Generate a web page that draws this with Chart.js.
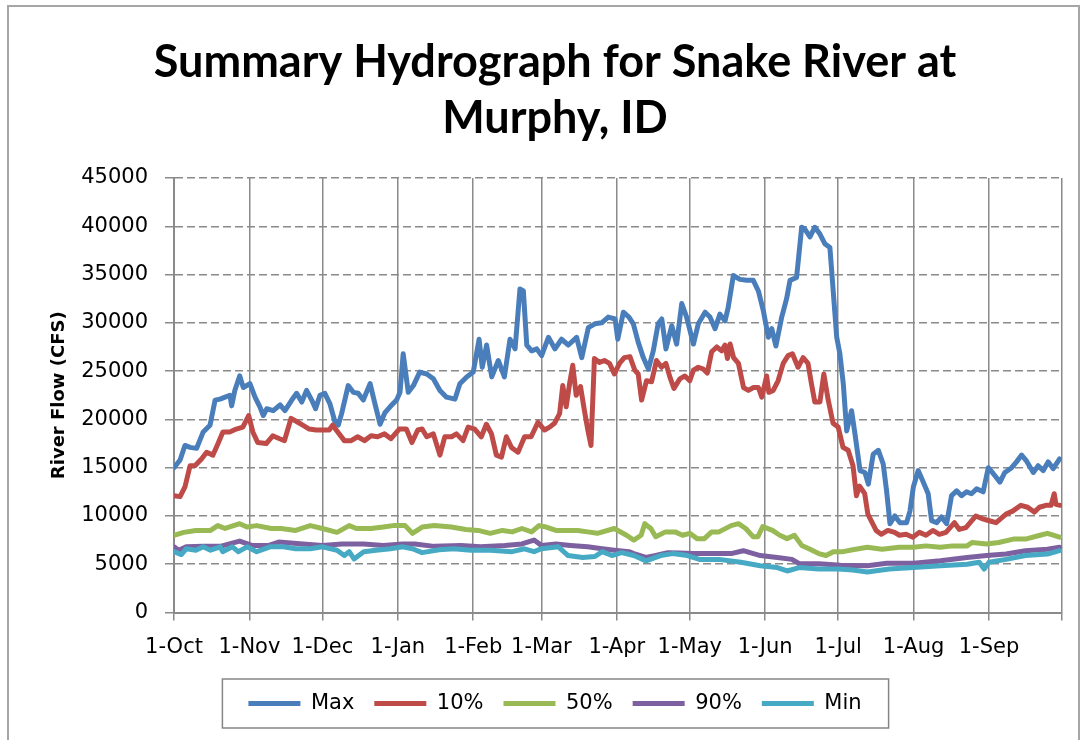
<!DOCTYPE html>
<html lang="en">
<head>
    <meta charset="UTF-8">
    <title>Summary Hydrograph for Snake River at Murphy, ID</title>
    <script src="https://cdn.jsdelivr.net/npm/chart.js"></script>
    <style>
        body, html {
            margin: 0;
            background-color: #fff;
            overflow: hidden;
        }
        #wrap {
            position: relative;
            width: 1085px;
            height: 740px;
        }
        /* outer chart frame, bottom edge falls off the picture */
        #frame {
            position: absolute;
            left: 7px;
            top: 5px;
            width: 1069px;
            height: 760px;
            border: 2px solid #a6a6a6;
            pointer-events: none;
        }
    </style>
</head>
<body>
<div id="wrap">
    <canvas id="hydroChart" width="1085" height="740"></canvas>
    <div id="frame"></div>
</div>

<script>
    // day of water year (0 = 1-Oct) for the month ticks
    const monthDays = [0, 31, 61, 92, 123, 151, 182, 212, 243, 273, 304, 335, 365];
    const monthLabels = ['1-Oct', '1-Nov', '1-Dec', '1-Jan', '1-Feb', '1-Mar', '1-Apr', '1-May', '1-Jun', '1-Jul', '1-Aug', '1-Sep', ''];

    // Max
    const maxDays = [0, 2.5, 4.5, 6.6, 9.3, 12, 14.8, 16.9, 18.9, 21, 23, 23.7, 25, 27, 28.5, 31.2, 33.3, 35.3, 36.7, 38.1,
        40.8, 43.6, 45.6, 48.4, 50.4, 52.5, 54.5, 56.6, 58.2, 60, 62, 64.1, 66.2, 67.5, 68.9, 71.6, 73.7, 75.7, 77.8, 80.6,
        82.6, 84.7, 86.7, 88.8, 91.5, 92.9, 94.2, 96.3, 98.4, 101, 103.9, 106.6, 109.3, 112, 115.5, 117.5, 120.3, 123, 125.4, 126.7,
        128.5, 130.6, 133.3, 135.8, 138.1, 140.2, 142.2, 143.6, 145, 147, 149.1, 151.1, 153.9, 156.6, 159.3, 162.1, 165.5, 167.6, 170.3, 173,
        175.8, 178.5, 181.3, 182.4, 184.7, 187, 188.8, 190.8, 192.9, 195, 197, 199, 200.5, 202.2, 204.6, 206.6, 208.7, 210.7, 213.5, 215.5,
        218.3, 220.3, 222.4, 224.4, 226.5, 227.8, 229.9, 232.6, 235.4, 238.1, 240.2, 242.2, 244.3, 245.7, 247.4, 249.8, 251.8, 253.2, 255.9, 258,
        259.3, 261.4, 263.4, 265.5, 267.5, 269.6, 272.4, 273.7, 275.1, 276.5, 278.5, 279.9, 282, 284, 285.4, 287.4, 289.5, 291.5, 292.9, 294.3,
        296.3, 298.4, 301.1, 302.5, 303.9, 305.9, 308, 310, 311.4, 313.5, 315.5, 317.6, 319.6, 321.7, 323.7, 325.8, 327.8, 329.9, 332.6, 334.7,
        336.7, 339.5, 341.5, 344.3, 346.3, 348.4, 350.4, 353.2, 355.2, 357.3, 359.3, 361.4, 364];
    const maxFlow = [15000, 15800, 17300, 17100, 17000, 18700, 19400, 22000, 22100, 22300, 22500, 21400, 23000, 24500, 23300, 23700, 22300, 21300, 20400, 21100,
        20900, 21500, 20900, 22000, 22700, 21800, 23000, 22000, 21100, 22500, 22700, 21600, 19700, 19400, 20600, 23500, 22800, 22700, 22000, 23700,
        21600, 19500, 20700, 21300, 22000, 22800, 26800, 22800, 23500, 24900, 24700, 24200, 23000, 22300, 22100, 23700, 24400, 24900, 28300, 25400,
        27700, 24400, 26100, 24400, 28300, 27300, 33500, 33300, 27700, 27100, 27300, 26600, 28500, 27300, 28300, 27700, 28500, 26400, 29500, 29900,
        30000, 30600, 30400, 28300, 31100, 30600, 29900, 28000, 26400, 25200, 27100, 29900, 30400, 27300, 29700, 27800, 32000, 30600, 27800, 29900,
        31100, 30600, 29400, 30900, 30200, 31600, 34900, 34500, 34400, 34400, 33300, 31300, 28500, 29400, 27600, 30600, 32500, 34400, 34700, 39900,
        39700, 38900, 39900, 39200, 38200, 37800, 28500, 26800, 23700, 18800, 20900, 18500, 14700, 14500, 13300, 16400, 16800, 15400, 12600, 9200,
        10000, 9300, 9300, 10500, 13000, 14700, 13500, 12300, 9500, 9300, 9900, 9200, 12100, 12600, 12100, 12500, 12300, 12800, 12500, 15000,
        14400, 13500, 14500, 15000, 15600, 16300, 15700, 14500, 15200, 14700, 15600, 14900, 15900];

    // 10%
    const p10Days = [0, 2.5, 4.5, 6.6, 8.6, 11.3, 13.4, 16, 18.1, 20.1, 22.9, 25.6, 28.3, 30.7, 32.4, 34.4, 37.9, 40.6, 43.4, 45.4,
        48.1, 50.9, 52.9, 55.6, 58.4, 61.1, 63.8, 65.2, 67.3, 70, 72.8, 75.5, 78.3, 81, 83.7, 86.5, 89.2, 92.6, 95.5, 97.8,
        100.2, 102, 103.9, 106.6, 109.3, 111.3, 114.1, 116.1, 118.8, 120.9, 123.6, 126.3, 128.4, 130.5, 132.5, 134.6, 136.6, 138.7, 141.4, 144.1,
        146.8, 149.6, 152.3, 154.4, 156.4, 158.5, 159.8, 161.2, 162.6, 163.9, 165.3, 167.1, 168.7, 170.1, 171.4, 172.8, 174.9, 176.9, 179, 181,
        183.1, 185.1, 187.4, 189.4, 190.8, 192.2, 194.2, 196.3, 198.3, 200.4, 202.2, 203.8, 205.5, 207.9, 210, 212, 213.5, 215.5, 217.6, 219.2,
        221, 223.1, 225.1, 226.5, 227.5, 228.6, 230, 232, 234.1, 236.1, 238.2, 240.2, 241.6, 243.6, 244.5, 246.3, 248.3, 250.4, 252.4, 254.2,
        256.5, 258.6, 260.6, 262, 263.4, 265.5, 267.1, 268.9, 270.9, 273, 275, 277.1, 279.1, 280.5, 281.8, 283.9, 285.2, 286.6, 288.6, 290.7,
        293.4, 296.2, 298.2, 300.9, 303.7, 306.4, 309.1, 311.9, 314.6, 317.3, 320.8, 322.8, 325.5, 329.6, 332.4, 335.1, 337.9, 342, 344.7, 348.1,
        350.9, 353.6, 355.7, 358.4, 360.5, 361.8, 362.5, 364.2];
    const p10Flow = [12100, 12000, 13000, 15200, 15200, 15900, 16600, 16300, 17500, 18700, 18700, 19000, 19200, 20400, 18700, 17600, 17500, 18300, 18000, 17800,
        20100, 19700, 19400, 19000, 18900, 18900, 18900, 19400, 18700, 17800, 17800, 18200, 17800, 18300, 18200, 18500, 18000, 19000, 19000, 17600,
        18900, 19000, 18200, 18500, 16300, 18200, 18200, 18500, 17800, 19200, 19000, 18200, 19500, 18500, 16300, 16100, 18200, 17100, 16600, 18200,
        18200, 19700, 18900, 19200, 19600, 20600, 23500, 21300, 23700, 25600, 22500, 23400, 20900, 18900, 17300, 26300, 25900, 26100, 25800, 24700,
        25800, 26400, 26500, 25100, 24700, 22000, 24000, 23900, 26100, 25400, 25800, 24400, 23200, 24200, 24500, 24000, 25100, 25400, 25200, 24800,
        27000, 27500, 27100, 27700, 26300, 27800, 26400, 25800, 23300, 23000, 23300, 23300, 22300, 24500, 22800, 23000, 24000, 25800, 26600, 26800,
        25400, 26400, 25800, 23700, 21800, 21800, 24700, 22000, 19600, 19200, 17100, 16800, 15200, 12100, 13100, 12300, 10200, 9500, 8500, 8100,
        8500, 8300, 8000, 8100, 7800, 8300, 8000, 8500, 8100, 8300, 9300, 8600, 8800, 10000, 9700, 9500, 9300, 10200, 10500, 11100,
        10900, 10400, 10900, 11100, 11100, 12300, 11200, 11100];

    // 50%
    const p50Days = [0, 4, 9, 15, 18, 21, 27, 30, 34, 40, 44, 50, 56, 61, 67, 72, 75, 81, 86, 90,
        95, 98, 102, 107, 114, 120, 125, 130, 135, 139, 143, 147, 150, 153, 157, 162, 166, 170, 174, 181,
        186, 189, 192, 193.5, 196, 198, 202, 206, 209, 212, 215, 218, 221, 224, 229, 232, 235, 238, 240, 242,
        246, 249, 252, 255, 258, 261, 265, 268, 271, 275, 279, 285, 291, 298, 304, 309, 315, 320, 326, 328,
        334, 339, 345, 350, 356, 359, 364];
    const p50Flow = [8000, 8300, 8500, 8500, 9000, 8700, 9200, 8850, 9000, 8700, 8700, 8500, 9000, 8700, 8300, 9000, 8700, 8700, 8850, 9000,
        9000, 8200, 8850, 9000, 8850, 8600, 8500, 8200, 8500, 8350, 8700, 8350, 9000, 8850, 8500, 8500, 8500, 8350, 8200, 8700,
        8000, 7500, 8000, 9200, 8700, 7850, 8350, 8350, 8000, 8200, 7650, 7650, 8350, 8350, 9000, 9200, 8700, 7850, 7850, 8900,
        8500, 8000, 7650, 8000, 6950, 6600, 6100, 5900, 6300, 6300, 6500, 6750, 6550, 6750, 6750, 6900, 6750, 6900, 6900, 7250,
        7100, 7250, 7600, 7600, 8000, 8200, 7800];

    // 90%
    const p90Days = [0, 2, 5, 12, 19, 27, 32, 39, 43, 53, 61, 69, 78, 86, 94, 99, 107, 118, 126, 136,
        143, 148, 151, 157, 163, 170, 176, 181, 187, 189, 194, 198, 203, 208, 213, 222, 229, 234, 241, 248,
        254, 257, 265, 274, 285, 293, 304, 315, 326, 334, 342, 350, 359, 364];
    const p90Flow = [6800, 6450, 6800, 6850, 6850, 7400, 6950, 6950, 7300, 7100, 6950, 7100, 7100, 6950, 7100, 7100, 6850, 6950, 6800, 6950,
        7100, 7500, 6950, 7100, 6950, 6800, 6600, 6450, 6300, 6100, 5700, 5900, 6200, 6150, 6100, 6100, 6100, 6400, 5900, 5700,
        5500, 5050, 5050, 4900, 4850, 5100, 5100, 5350, 5700, 5900, 6050, 6400, 6550, 6750];

    // Min
    const minDays = [0, 3, 5, 9, 12, 15, 19, 20, 24, 26.5, 30, 34, 39.5, 45, 50, 56, 61, 67, 70, 72,
        74, 78, 83, 89, 94, 98, 102, 109, 115, 122, 130, 139, 144, 148, 151, 158, 162, 168, 173, 176,
        180, 184, 189, 194, 200, 205, 211, 216, 224, 233, 241, 248, 252, 257, 265, 273, 279, 285, 294, 304,
        315, 326, 331, 333, 335, 342, 350, 359, 364];
    const minFlow = [6300, 6000, 6600, 6450, 6800, 6450, 6800, 6300, 6800, 6300, 6800, 6300, 6800, 6800, 6600, 6600, 6800, 6450, 5900, 6300,
        5550, 6300, 6450, 6600, 6800, 6600, 6200, 6500, 6600, 6450, 6450, 6300, 6600, 6300, 6600, 6800, 5900, 5700, 5800, 6300,
        5900, 6200, 5900, 5350, 5900, 6100, 5900, 5500, 5500, 5200, 4850, 4650, 4300, 4650, 4500, 4500, 4400, 4200, 4500, 4650,
        4850, 5000, 5200, 4500, 5200, 5500, 5900, 6050, 6400];

    const toPoints = (days, flow) => days.map((d, i) => ({x: d, y: flow[i]}));

    function series(label, days, flow, color, order) {
        return {
            label: label,
            data: toPoints(days, flow),
            borderColor: color,
            backgroundColor: color,
            borderWidth: 5,
            borderCapStyle: 'round',
            borderJoinStyle: 'round',
            pointRadius: 0,
            pointStyle: 'line',
            tension: 0,
            order: order
        };
    }

    // frame round the legend, like the Excel legend box
    const legendFrame = {
        id: 'legendFrame',
        afterDraw(chart) {
            const boxes = chart.legend.legendHitBoxes;
            if (!boxes || !boxes.length) return;
            const last = boxes[boxes.length - 1];
            const left = boxes[0].left - 26;
            const right = last.left + last.width + 27;
            const cy = boxes[0].top + boxes[0].height / 2;
            const ctx = chart.ctx;
            ctx.save();
            ctx.strokeStyle = '#868686';
            ctx.lineWidth = 1.5;
            ctx.strokeRect(left, cy - 24.5, right - left, 49);
            ctx.restore();
        }
    };

    const gridGray = '#8a8a8a';

    new Chart(document.getElementById('hydroChart'), {
        type: 'line',
        data: {
            datasets: [
                series('Max', maxDays, maxFlow, '#4a7ebb', 5),
                series('10%', p10Days, p10Flow, '#be4b48', 4),
                series('50%', p50Days, p50Flow, '#98b954', 3),
                series('90%', p90Days, p90Flow, '#7d60a0', 2),
                series('Min', minDays, minFlow, '#46aac5', 1)
            ]
        },
        options: {
            responsive: false,
            animation: false,
            layout: {
                padding: {left: 48, right: 23, top: 0, bottom: 16}
            },
            plugins: {
                title: {
                    display: true,
                    text: ['Summary Hydrograph for Snake River at', 'Murphy, ID'],
                    color: '#000',
                    font: {family: "Lato, 'Liberation Sans', sans-serif", size: 45, weight: 'bold', lineHeight: 56 / 45},
                    padding: {top: 34, bottom: 32}
                },
                legend: {
                    position: 'bottom',
                    labels: {
                        usePointStyle: true,
                        pointStyle: 'line',
                        pointStyleWidth: 52,
                        boxHeight: 20,
                        padding: 20,
                        color: '#000',
                        font: {family: "'DejaVu Sans', sans-serif", size: 21},
                        sort: (a, b) => a.datasetIndex - b.datasetIndex
                    }
                },
                tooltip: {enabled: false}
            },
            scales: {
                x: {
                    type: 'linear',
                    min: 0,
                    max: 365,
                    afterBuildTicks: axis => {
                        axis.ticks = monthDays.map(v => ({value: v}));
                    },
                    afterFit: scale => {
                        scale.height = 60.5;
                    },
                    ticks: {
                        autoSkip: false,
                        maxRotation: 0,
                        padding: 14,
                        color: '#000',
                        font: {family: "'DejaVu Sans', sans-serif", size: 21},
                        callback: (value, index) => monthLabels[index]
                    },
                    grid: {
                        color: gridGray,
                        lineWidth: 1.5,
                        tickLength: 8,
                        tickColor: gridGray
                    },
                    border: {color: gridGray, width: 2}
                },
                y: {
                    min: 0,
                    max: 45000,
                    afterFit: scale => {
                        scale.width = 126;
                    },
                    ticks: {
                        stepSize: 5000,
                        padding: 17,
                        color: '#000',
                        font: {family: "'DejaVu Sans', sans-serif", size: 21},
                        callback: value => String(value)
                    },
                    grid: {
                        color: gridGray,
                        lineWidth: 1.5,
                        tickLength: 9,
                        tickColor: gridGray,
                        tickBorderDash: []
                    },
                    border: {color: gridGray, width: 2, dash: [8, 4]},
                    title: {
                        display: true,
                        text: 'River Flow (CFS)',
                        color: '#000',
                        font: {family: "'DejaVu Sans', sans-serif", size: 18, weight: 'bold'},
                        padding: {top: 1, bottom: 0}
                    }
                }
            }
        },
        plugins: [legendFrame]
    });
</script>
</body>
</html>
